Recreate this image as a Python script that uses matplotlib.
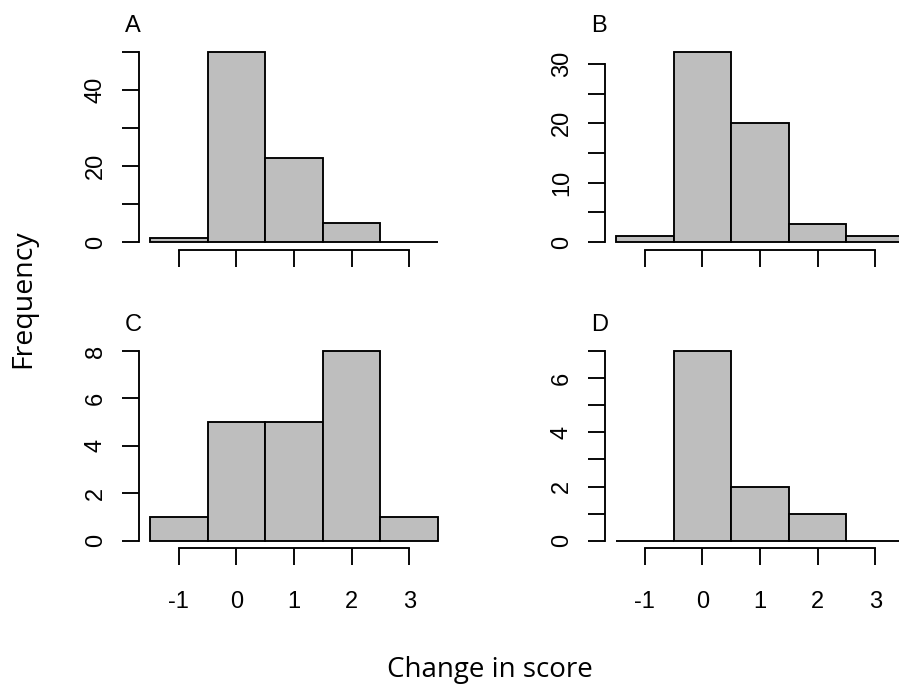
import numpy as np
import matplotlib
matplotlib.use("Agg")
import matplotlib.pyplot as plt

# bin centres (width 1) and counts per panel
centers = [-1, 0, 1, 2, 3]
counts_a = [1, 50, 22, 5, 0]
counts_b = [1, 32, 20, 3, 1]
counts_c = [1, 5, 5, 8, 1]
counts_d = [0, 7, 2, 1, 0]

panel_names = ["A", "B", "C", "D"]
x_ticks = [-1, 0, 1, 2, 3]
y_ticks = {
    "A": [0, 10, 20, 30, 40, 50],
    "B": [0, 5, 10, 15, 20, 25, 30],
    "C": [0, 2, 4, 6, 8],
    "D": [0, 1, 2, 3, 4, 5, 6, 7],
}
y_labels = {
    "A": ["0", "", "20", "", "40", ""],
    "B": ["0", "", "10", "", "20", "", "30"],
    "C": ["0", "2", "4", "6", "8"],
    "D": ["0", "", "2", "", "4", "", "6", ""],
}

W, H = 899, 686
TICK_FONT = "Liberation Sans"
LW = 1.35


def px_axes(fig, x0, x1, ytop, ybot):
    return fig.add_axes([x0 / W, 1 - ybot / H, (x1 - x0) / W, (ybot - ytop) / H])


fig = plt.figure(figsize=(W / 100, H / 100), dpi=100)

cols = [(138.5, 449.5), (604.5, 915.5)]
rows = [(44.4, 249.6), (343.4, 548.3)]
data = {"A": counts_a, "B": counts_b, "C": counts_c, "D": counts_d}

for i, name in enumerate(panel_names):
    r, c = divmod(i, 2)
    x0, x1 = cols[c]
    yt, yb = rows[r]
    ax = px_axes(fig, x0, x1, yt, yb)
    counts = data[name]
    ymax = max(counts)
    ax.bar(centers, counts, width=1.0, color="#BEBEBE", edgecolor="black",
           linewidth=LW)
    ax.set_xlim(-1.7, 3.7)
    ax.set_ylim(-0.04 * ymax, 1.04 * ymax)

    for s in ("top", "right"):
        ax.spines[s].set_visible(False)
    for s in ("left", "bottom"):
        ax.spines[s].set_linewidth(LW)
    ax.spines["left"].set_bounds(0, y_ticks[name][-1])
    ax.spines["bottom"].set_bounds(-1, 3)

    ax.set_xticks(x_ticks)
    if r == 1:
        ax.set_xticklabels([str(t) for t in x_ticks], fontsize=17,
                           family=TICK_FONT)
    else:
        ax.set_xticklabels([])
    ax.set_yticks(y_ticks[name])
    ax.set_yticklabels(y_labels[name], fontsize=17, family=TICK_FONT,
                       rotation=90, va="center")
    ax.tick_params(axis="both", length=12.2, width=LW, direction="out")
    ax.tick_params(axis="x", pad=18.5)
    ax.tick_params(axis="y", pad=10.5)

    fig.text((x0 - 13.5) / W, 1 - (yt - 12.5) / H, name, fontsize=17,
             family=TICK_FONT, ha="left", va="baseline")

fig.text(489.5 / W, 1 - 677 / H, "Change in score", fontsize=20,
         family="Open Sans", ha="center", va="baseline")
fig.text(30 / W, 1 - 299 / H, "Frequency", fontsize=20.5, family="Open Sans",
         rotation=90, ha="center", va="baseline", rotation_mode="anchor")

fig.savefig("out.png", dpi=100)
